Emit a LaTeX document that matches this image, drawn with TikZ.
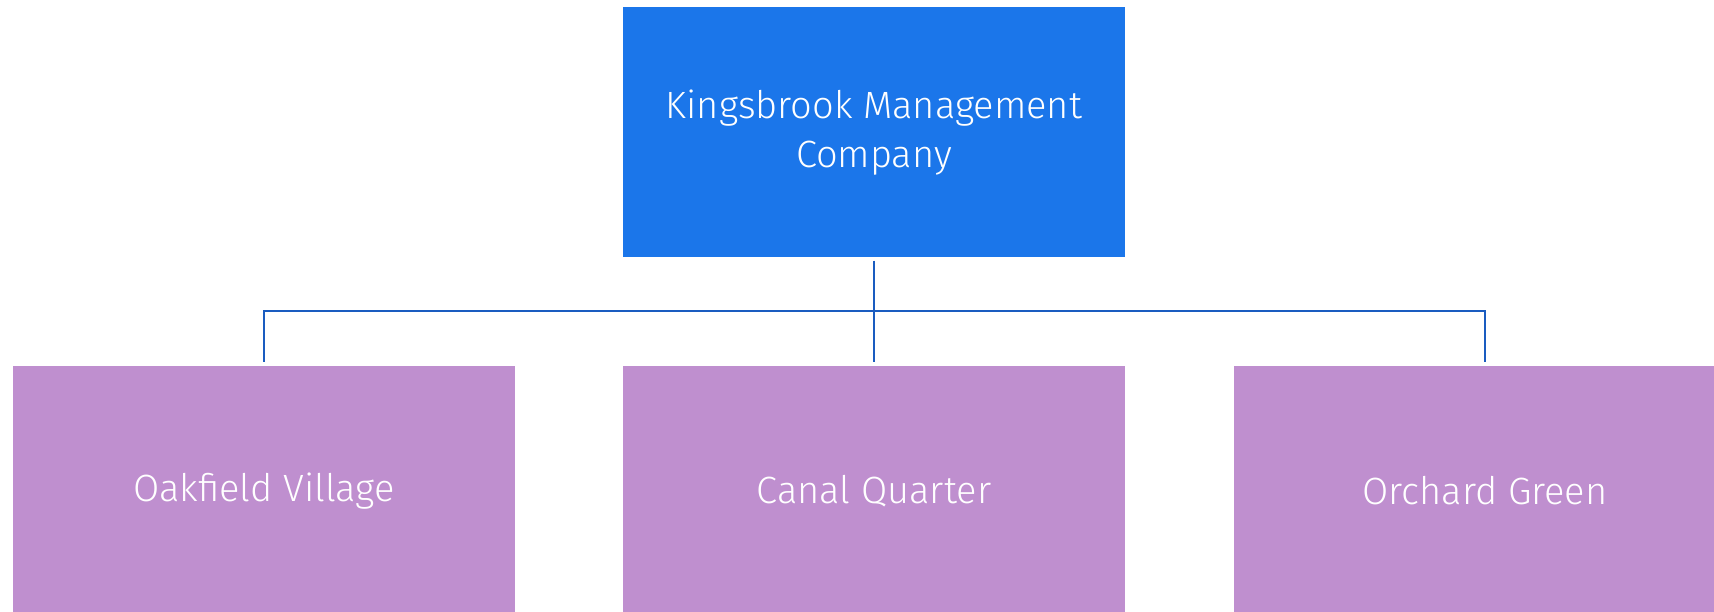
\documentclass[tikz,border=0pt]{standalone}
\usepackage{fontspec}
\setmainfont{Fira Sans}[UprightFont=* Light]
\definecolor{topblue}{HTML}{1B76EA}
\definecolor{lilac}{HTML}{BF8FCF}
\definecolor{linkblue}{HTML}{1A5CC0}
\begin{document}
\begin{tikzpicture}[x=1pt,y=-1pt,
  boxstyle/.style={rectangle, inner sep=0pt, minimum width=502pt, minimum height=250pt,
    text=white, align=center, font=\fontsize{38}{49}\selectfont},
  topbox/.style={boxstyle, fill=topblue},
  unitbox/.style={boxstyle, fill=lilac},
  conn/.style={draw=linkblue, line width=2.8pt}]
\useasboundingbox (0,0) rectangle (1714,612);
\clip (0,0) rectangle (1714,612);
\node[topbox] (top) at (874,132.5) {Kingsbrook Management\\Company};
\node[unitbox] (oak) at (264,491) {Oakfield Village};
\node[unitbox] (canal) at (874,491) {Canal Quarter};
\node[unitbox] (orch) at (1485,491) {Orchard Green};
\coordinate (bus) at (874,311);
\draw[conn, shorten <=3pt] (top.south) -- (bus);
\draw[conn, shorten >=4pt] (bus) -| (oak.north);
\draw[conn, shorten >=4pt] (bus) -- (canal.north);
\draw[conn, shorten >=4pt] (bus) -| (orch.north);
\end{tikzpicture}
\end{document}
